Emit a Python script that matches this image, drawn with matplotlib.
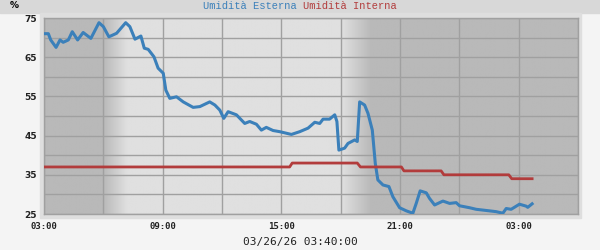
import numpy as np
import matplotlib.pyplot as plt
from matplotlib.patches import Rectangle

# ore dall'inizio del grafico (03:00 del giorno prima)
est_ore = [3.05, 3.22, 3.34, 3.61, 3.81, 3.97, 4.23, 4.43, 4.70, 4.98, 5.37, 5.78, 6.00,
           6.28, 6.67, 7.13, 7.34, 7.60, 7.90, 8.07, 8.27, 8.56, 8.77, 9.03, 9.16, 9.36,
           9.70, 10.04, 10.54, 10.88, 11.38, 11.64, 11.89, 12.09, 12.31, 12.73, 13.15,
           13.40, 13.74, 13.99, 14.24, 14.58, 14.92, 15.51, 15.93, 16.35, 16.69, 16.94,
           17.11, 17.44, 17.70, 17.81, 17.91, 18.20, 18.37, 18.71, 18.84, 18.96, 19.21,
           19.38, 19.60, 19.75, 19.88, 20.14, 20.44, 20.64, 20.98, 21.32, 21.65, 21.82,
           22.02, 22.33, 22.49, 22.75, 23.17, 23.51, 23.84, 24.01, 24.52, 24.85, 25.53,
           25.86, 26.20, 26.37, 26.62, 27.04, 27.38, 27.46, 27.68]
est_val = [71.0, 71.0, 69.4, 67.5, 69.4, 68.8, 69.4, 71.5, 69.4, 71.3, 69.8, 73.8, 72.8,
           70.2, 71.1, 73.8, 72.8, 69.6, 70.4, 67.3, 67.0, 65.1, 62.2, 60.9, 56.6, 54.5,
           54.9, 53.6, 52.2, 52.4, 53.6, 52.8, 51.5, 49.4, 51.1, 50.3, 48.1,
           48.6, 47.9, 46.4, 47.1, 46.3, 46.0, 45.3, 46.0, 46.9, 48.4, 48.1,
           49.2, 49.2, 50.3, 48.6, 41.3, 41.8, 43.0, 43.9, 43.5, 53.6, 52.8,
           50.7, 46.4, 37.9, 33.7, 32.4, 32.0, 29.4, 26.6, 25.8, 25.2, 27.7,
           30.9, 30.4, 29.0, 27.3, 28.3, 27.7, 27.9, 27.1, 26.6, 26.2, 25.8,
           25.6, 25.2, 26.4, 26.2, 27.5, 27.0, 26.7, 27.6]

int_ore = [3.0, 15.42, 15.55, 18.84, 19.0, 21.07, 21.2, 23.08, 23.22, 26.5, 26.65, 27.68]
int_val = [37, 37, 38, 38, 37, 37, 36, 36, 35, 35, 34, 34]

xtick_pos = [3, 9, 15, 21, 27]
xtick_lab = ["03:00", "09:00", "15:00", "21:00", "03:00"]
ytick_pos = [25, 35, 45, 55, 65, 75]

fig = plt.figure(figsize=(6, 2.5), dpi=100, facecolor="#f4f4f4")
fig.patches.append(Rectangle((0, 0.948), 1, 0.052, transform=fig.transFigure,
                             color="#d8d8d8", zorder=-10))
fig.patches.append(Rectangle((0.0667, 0.128), 0.9016, 0.82, transform=fig.transFigure,
                             color="#dedede", zorder=-10))

ax = fig.add_axes([44 / 600, 1 - 214 / 250, 534 / 600, 196 / 250])

# sfondo notte/giorno con sfumature
xs = np.linspace(3, 30, 1000)
night, day = 0xb9 / 255, 0xe0 / 255
mix = np.clip((xs - 6.0) / 1.2, 0, 1) * np.clip((19.55 - xs) / 1.5, 0, 1)
shade = night + (day - night) * mix
img = np.tile(shade, (2, 1))
ax.imshow(np.dstack([img, img, img]), extent=[3, 30, 25, 75], aspect="auto", zorder=0)

ax.plot(est_ore, est_val, color="#3b80ba", lw=2.2, zorder=3)
ax.plot(int_ore, int_val, color="#b23c3c", lw=2.0, zorder=3)

ax.set_xlim(3, 30)
ax.set_ylim(25, 75)
ax.set_xticks(xtick_pos)
ax.set_xticklabels(xtick_lab, family="DejaVu Sans Mono", fontsize=6.5, fontweight="bold")
ax.set_xticks(np.arange(3, 31, 3), minor=True)
ax.set_yticks(ytick_pos)
ax.set_yticklabels([str(v) for v in ytick_pos], fontsize=6.5, fontweight="bold")
ax.set_yticks(np.arange(25, 76, 5), minor=True)
ax.grid(which="both", color="#a0a0a0", lw=1)
ax.tick_params(which="both", length=0, colors="#222222")
ax.tick_params(axis="x", pad=6)
ax.tick_params(axis="y", pad=5)
for s in ax.spines.values():
    s.set_color("#a0a0a0")
    s.set_linewidth(1)

fig.text(10 / 600, 1 - 5 / 250, "%", fontsize=6.5, fontweight="bold", va="center")
fig.text(297 / 600, 1 - 6 / 250, "Umidità Esterna", family="Liberation Mono",
         fontsize=7.5, color="#3b80ba", ha="right", va="center")
fig.text(303 / 600, 1 - 6 / 250, "Umidità Interna", family="Liberation Mono",
         fontsize=7.5, color="#b23c3c", ha="left", va="center")
fig.text(300 / 600, 1 - 242 / 250, "03/26/26 03:40:00", family="DejaVu Sans Mono",
         fontsize=8, ha="center", va="center", color="#222222")

fig.savefig("out.png", dpi=100, facecolor=fig.get_facecolor())
